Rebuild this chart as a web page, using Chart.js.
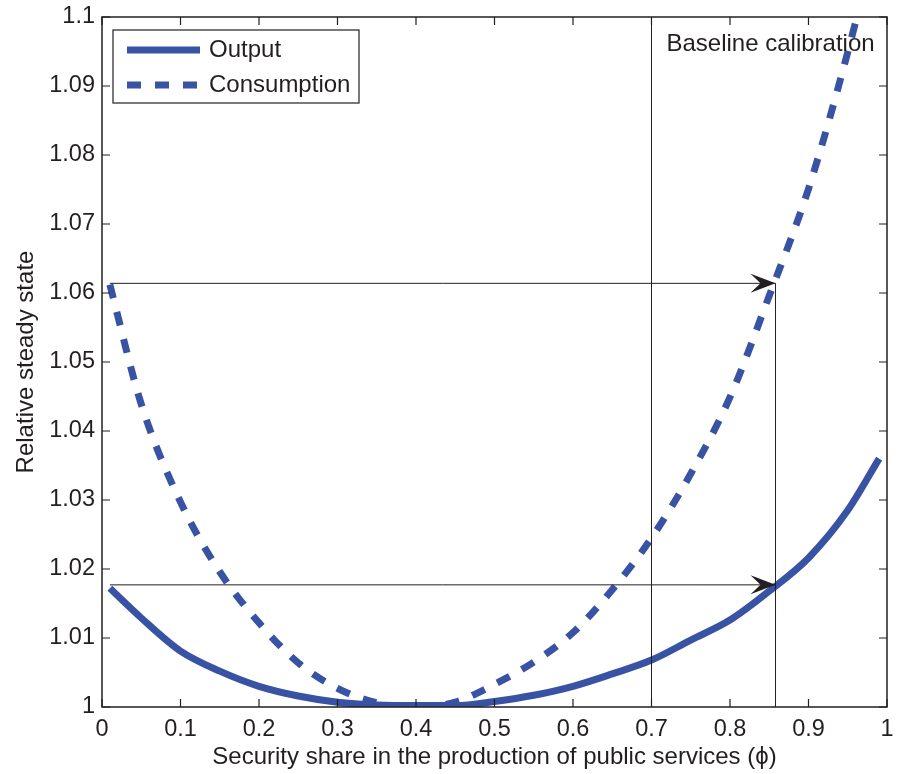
<!DOCTYPE html>
<html>
<head>
<meta charset="utf-8">
<script src="https://cdn.jsdelivr.net/npm/chart.js@4/dist/chart.umd.min.js"></script>
<style>
  html, body { margin: 0; padding: 0; background: #fff; }
  #wrap { width: 897px; height: 774px; }
</style>
</head>
<body>
<div id="wrap"><canvas id="chart" width="897" height="774"></canvas></div>
<script>
// values
const phi = [0.01, 0.05, 0.10, 0.15, 0.20, 0.25, 0.30, 0.35, 0.40, 0.45, 0.50,
             0.55, 0.60, 0.65, 0.70, 0.75, 0.80, 0.85, 0.90, 0.95, 0.99];
const output = [1.0172, 1.0129, 1.0081, 1.0052, 1.0030, 1.0016, 1.0007, 1.0003, 1.0002, 1.0002, 1.0008,
                1.0017, 1.0030, 1.0048, 1.0068, 1.0097, 1.0126, 1.0168, 1.0216, 1.0285, 1.0360];
const consumption = [1.0612, 1.0439, 1.0297, 1.0196, 1.0122, 1.0064, 1.0027, 1.0006, 1.0000, 1.0007, 1.0033,
                     1.0065, 1.0108, 1.0170, 1.0245, 1.0338, 1.0449, 1.0596, 1.0751, 1.0949, 1.1130];

const baselinePhi = 0.7;
const markerPhi = 0.858;
const arrowStart = 0.01;
const arrowLevels = [1.0614, 1.0177];

const xTicks = [0, 0.1, 0.2, 0.3, 0.4, 0.5, 0.6, 0.7, 0.8, 0.9, 1];
const xTickLabels = ['0', '0.1', '0.2', '0.3', '0.4', '0.5', '0.6', '0.7', '0.8', '0.9', '1'];
const yTicks = [1, 1.01, 1.02, 1.03, 1.04, 1.05, 1.06, 1.07, 1.08, 1.09, 1.1];
const yTickLabels = ['1', '1.01', '1.02', '1.03', '1.04', '1.05', '1.06', '1.07', '1.08', '1.09', '1.1'];

const BLUE = '#3953a4';
const INK = '#231f20';
const FONT = '"Liberation Sans", Arial, Helvetica, sans-serif';
const FS = 24;
const TICK_FS = 23.5;

const pts = (xs, ys) => xs.map((x, i) => ({ x: x, y: ys[i] }));
const thin = { borderColor: INK, borderWidth: 1, pointRadius: 0, tension: 0, fill: false };

const datasets = [
  Object.assign({ label: 'baseline', data: [{ x: baselinePhi, y: 1 }, { x: baselinePhi, y: 1.1 }] }, thin),
  Object.assign({ label: 'marker', data: [{ x: markerPhi, y: 1 }, { x: markerPhi, y: arrowLevels[0] }] }, thin),
  Object.assign({ label: 'arrowC', data: [{ x: arrowStart, y: arrowLevels[0] }, { x: markerPhi, y: arrowLevels[0] }] }, thin),
  Object.assign({ label: 'arrowY', data: [{ x: arrowStart, y: arrowLevels[1] }, { x: markerPhi, y: arrowLevels[1] }] }, thin),
  {
    label: 'Output', data: pts(phi, output), borderColor: BLUE, borderWidth: 7,
    pointRadius: 0, cubicInterpolationMode: 'monotone', fill: false
  },
  {
    label: 'Consumption', data: pts(phi, consumption), borderColor: BLUE, borderWidth: 7,
    borderDash: [14, 14], borderCapStyle: 'butt', pointRadius: 0, cubicInterpolationMode: 'monotone', fill: false
  }
];

const noPad = s => { s.paddingLeft = 0; s.paddingRight = 0; s.paddingTop = 0; s.paddingBottom = 0; };

const frame = {
  id: 'frame',
  afterDatasetsDraw(chart) {
    const { ctx, chartArea: a, scales: { x, y } } = chart;
    ctx.save();

    // arrow heads
    arrowLevels.forEach(lv => {
      const tx = x.getPixelForValue(markerPhi), ty = y.getPixelForValue(lv);
      ctx.fillStyle = INK;
      ctx.beginPath();
      ctx.moveTo(tx, ty);
      ctx.lineTo(tx - 25, ty - 9.5);
      ctx.lineTo(tx - 15, ty);
      ctx.lineTo(tx - 25, ty + 9.5);
      ctx.closePath();
      ctx.fill();
    });

    // box and inward ticks
    ctx.strokeStyle = INK;
    ctx.lineWidth = 1.5;
    ctx.strokeRect(a.left, a.top, a.right - a.left, a.bottom - a.top);
    ctx.lineWidth = 1.2;
    ctx.beginPath();
    xTicks.forEach(v => {
      const px = x.getPixelForValue(v);
      ctx.moveTo(px, a.bottom); ctx.lineTo(px, a.bottom - 8);
      ctx.moveTo(px, a.top); ctx.lineTo(px, a.top + 8);
    });
    yTicks.forEach(v => {
      const py = y.getPixelForValue(v);
      ctx.moveTo(a.left, py); ctx.lineTo(a.left + 8, py);
      ctx.moveTo(a.right, py); ctx.lineTo(a.right - 8, py);
    });
    ctx.stroke();

    // text label
    ctx.fillStyle = INK;
    ctx.font = FS + 'px ' + FONT;
    ctx.textBaseline = 'middle';
    ctx.textAlign = 'left';
    ctx.fillText('Baseline calibration', x.getPixelForValue(baselinePhi) + 15, a.top + 27);

    // legend
    const lx = a.left + 11, ly = a.top + 13, lw = 246, lh = 73;
    ctx.fillStyle = '#fff';
    ctx.fillRect(lx, ly, lw, lh);
    ctx.lineWidth = 1.2;
    ctx.strokeRect(lx, ly, lw, lh);
    const rows = [['Output', []], ['Consumption', [14, 14]]];
    rows.forEach((r, i) => {
      const ry = ly + 20 + i * 35;
      ctx.strokeStyle = BLUE;
      ctx.lineWidth = 7;
      ctx.lineCap = 'butt';
      ctx.setLineDash(r[1]);
      ctx.beginPath();
      ctx.moveTo(lx + 14, ry); ctx.lineTo(lx + 87, ry);
      ctx.stroke();
      ctx.setLineDash([]);
      ctx.fillStyle = INK;
      ctx.fillText(r[0], lx + 96, ry);
    });
    ctx.restore();
  }
};

new Chart(document.getElementById('chart').getContext('2d'), {
  type: 'line',
  data: { datasets: datasets },
  options: {
    responsive: false,
    maintainAspectRatio: false,
    animation: false,
    layout: { padding: { left: 0, right: 10, top: 17, bottom: 0 } },
    plugins: { legend: { display: false }, tooltip: { enabled: false } },
    scales: {
      x: {
        type: 'linear', min: 0, max: 1,
        afterBuildTicks: s => { s.ticks = xTicks.map(v => ({ value: v })); },
        afterFit: s => { s.height = 67; noPad(s); },
        grid: { display: false, drawTicks: false },
        border: { display: false },
        ticks: {
          color: INK, font: { family: FONT, size: TICK_FS }, padding: 8, maxRotation: 0,
          autoSkip: false, callback: (v, i) => xTickLabels[i]
        },
        title: {
          display: true, text: 'Security share in the production of public services (\u03d5)',
          color: INK, font: { family: FONT, size: FS }, padding: { top: 4, bottom: 2 }
        }
      },
      y: {
        type: 'linear', min: 1, max: 1.1,
        afterBuildTicks: s => { s.ticks = yTicks.map(v => ({ value: v })); },
        afterFit: s => { s.width = 102; noPad(s); },
        grid: { display: false, drawTicks: false },
        border: { display: false },
        ticks: {
          color: INK, font: { family: FONT, size: TICK_FS }, padding: 7,
          autoSkip: false, callback: (v, i) => yTickLabels[i]
        },
        title: {
          display: true, text: 'Relative steady state',
          color: INK, font: { family: FONT, size: FS }, padding: { top: 12, bottom: 12 }
        }
      }
    }
  },
  plugins: [frame]
});
</script>
</body>
</html>
